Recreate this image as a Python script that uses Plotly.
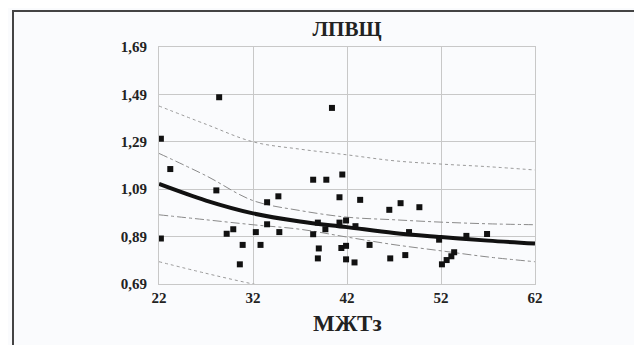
import plotly.graph_objects as go

# Scatter data (МЖТз, ЛПВЩ)
pts_x = [28.4, 22.2, 23.2, 28.1, 29.2, 29.9, 22.2, 30.9, 30.6, 32.3, 32.8,
         40.4, 38.4, 39.8, 41.5, 41.2, 34.7, 33.5, 33.5, 34.8, 38.9, 38.4,
         39.7, 41.2, 41.9, 39.0, 38.9, 41.4, 41.9, 41.9, 42.8, 43.4, 46.5,
         47.7, 49.7, 42.9, 44.4, 46.6, 48.2, 48.6, 51.8, 52.1, 52.6, 53.1,
         53.4, 54.7, 56.9]
pts_y = [1.478, 1.303, 1.175, 1.085, 0.902, 0.921, 0.882, 0.855, 0.773, 0.909, 0.855,
         1.433, 1.130, 1.130, 1.152, 1.056, 1.060, 1.035, 0.942, 0.909, 0.949, 0.900,
         0.921, 0.949, 0.958, 0.840, 0.798, 0.842, 0.851, 0.794, 0.781, 1.045, 1.003,
         1.031, 1.014, 0.934, 0.855, 0.798, 0.812, 0.909, 0.877, 0.773, 0.791, 0.807,
         0.824, 0.893, 0.901]

# Curves
curve_x = [22, 27, 32, 37, 42, 47, 52, 57, 62]
fit_y = [1.112, 1.042, 0.988, 0.954, 0.930, 0.905, 0.888, 0.873, 0.861]
ci_up = [1.241, 1.147, 1.042, 1.000, 0.972, 0.961, 0.951, 0.944, 0.940]
ci_lo = [0.982, 0.961, 0.940, 0.921, 0.888, 0.856, 0.830, 0.804, 0.784]
pi_up = [1.441, 1.364, 1.290, 1.259, 1.235, 1.210, 1.196, 1.185, 1.171]
pi_lo_x = [22, 27, 32, 37]
pi_lo = [0.784, 0.735, 0.690, 0.650]

x_ticks = [22, 32, 42, 52, 62]
y_ticks = [0.69, 0.89, 1.09, 1.29, 1.49, 1.69]
y_tick_text = ["0,69", "0,89", "1,09", "1,29", "1,49", "1,69"]

title_text = "ЛПВЩ"
x_title = "МЖТз"

fig = go.Figure()
gray = "#8a8a8a"
fig.add_trace(go.Scatter(x=curve_x, y=pi_up, mode="lines", line=dict(color="#9a9a9a", width=1, dash="dot", shape="spline")))
fig.add_trace(go.Scatter(x=pi_lo_x, y=pi_lo, mode="lines", line=dict(color="#9a9a9a", width=1, dash="dot", shape="spline")))
fig.add_trace(go.Scatter(x=curve_x, y=ci_up, mode="lines", line=dict(color=gray, width=1, dash="dashdot", shape="spline")))
fig.add_trace(go.Scatter(x=curve_x, y=ci_lo, mode="lines", line=dict(color=gray, width=1, dash="dashdot", shape="spline")))
fig.add_trace(go.Scatter(x=curve_x, y=fit_y, mode="lines", line=dict(color="#111111", width=4, shape="spline")))
fig.add_trace(go.Scatter(x=pts_x, y=pts_y, mode="markers",
                         marker=dict(symbol="square", size=6, color="#111111")))

# page body adds an 8px offset; figure laid out in page coords minus 8
OFF = 8
FW, FH = 642 - OFF, 345 - OFF
L, T = 159 - OFF, 47 - OFF
R = FW - (535 - OFF)
B = FH - (284 - OFF)
W = FW - L - R
H = FH - T - B

font_serif = "Times New Roman, Liberation Serif, DejaVu Serif, serif"
fig.update_layout(
    width=FW, height=FH,
    margin=dict(l=L, r=R, t=T, b=B, autoexpand=False),
    paper_bgcolor="#fafbfd", plot_bgcolor="#fafbfd",
    showlegend=False,
    font=dict(family=font_serif, color="#222222"),
    title=dict(text="<b>" + title_text + "</b>", x=(347 - OFF) / FW, xanchor="center",
               y=1 - (29 - OFF) / FH, yanchor="middle", font=dict(size=21, family=font_serif, color="#222222")),
    xaxis=dict(range=[22, 62], tickvals=x_ticks, ticktext=["<b>" + str(v) + "</b>" for v in x_ticks],
               showgrid=True, gridcolor="#c8c8c8", gridwidth=1,
               showline=True, linecolor="#c8c8c8", linewidth=1, mirror=True,
               zeroline=False, ticks="",
               tickfont=dict(size=15, family=font_serif, color="#222222")),
    yaxis=dict(range=[0.69, 1.69], tickvals=y_ticks, ticktext=["<b>" + t + "</b>" for t in y_tick_text],
               showgrid=True, gridcolor="#c8c8c8", gridwidth=1,
               showline=True, linecolor="#c8c8c8", linewidth=1, mirror=True,
               zeroline=False, ticks="", ticklabelstandoff=8,
               tickfont=dict(size=15, family=font_serif, color="#222222")),
)

# x-axis title placed as annotation
fig.add_annotation(text="<b>" + x_title + "</b>", xref="paper", yref="paper",
                   x=(347 - 159) / W, y=-(309 - 284) / H, xanchor="center", yanchor="top",
                   showarrow=False, font=dict(size=23, family=font_serif, color="#222222"))

# outer frame
fig.add_shape(type="rect", xref="paper", yref="paper",
              x0=(13 - 159) / W, x1=(636 - 159) / W,
              y0=-(345 - 284 + 20) / H, y1=1 + (47 - 11) / H,
              line=dict(color="#444444", width=2), fillcolor="rgba(0,0,0,0)", layer="below")

fig.write_html("out.html")
